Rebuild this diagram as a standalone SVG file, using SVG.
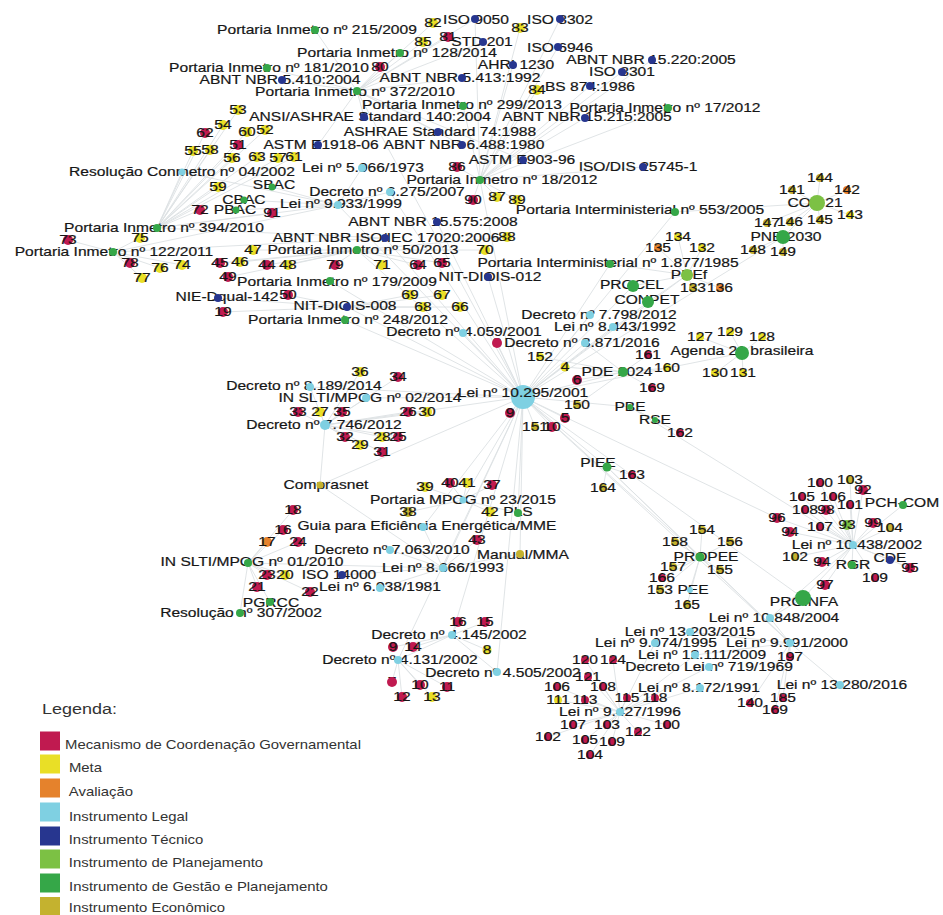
<svg xmlns="http://www.w3.org/2000/svg" width="943" height="915" viewBox="0 0 943 915">
<style>
text{font-family:"Liberation Sans",Arial,Helvetica,sans-serif;font-size:13px;fill:#161616;stroke:#161616;stroke-width:0.2;text-anchor:middle;transform-box:fill-box;transform-origin:center;transform:scaleX(1.2)}
.e{fill:none;stroke:#dce1e3;stroke-width:0.9}
.R{fill:#c01a50}.Y{fill:#e9df26}.O{fill:#e5822c}.C{fill:#7fd0e2}.B{fill:#27368f}.L{fill:#7cc144}.G{fill:#35a748}.E{fill:#c4b22f}
#legend text{font-size:12.4px;fill:#333;stroke:none}
#legend .h{font-size:15px}
</style>
<rect width="943" height="915" fill="#fff"/>
<g id="edges">
<path class="e" d="M523 397L463 333M523 397L488 277M523 397L480 180M523 397L675 212M523 397L610 264M523 397L633 286M523 397L648 302M523 397L590 315M523 397L613 327M523 397L585 343M523 397L623 372M523 397L630 407M523 397L607 467M523 397L463 500M523 397L366 398M523 397L325 425M523 397L742 353M523 397L687 275M523 397L777 518M523 397L790 643M523 397L452 635M523 397L398 660M523 397L497 672M523 397L520 554M523 397L518 513M523 397L423 527M523 397L443 568M523 397L320 485M523 397L357 250M523 397L390 192M523 397L338 205M523 397L330 281M523 397L347 307M523 397L345 320M523 397L310 387M523 397L783 237M523 397L700 557M523 397L803 598M523 397L385 238M523 397L437 222M523 397L357 91M523 397L497 343M523 397L565 418M523 397L510 413M523 397L535 427M523 397L552 427"/>
<path class="e" d="M480 180L475 19M480 180L560 19M480 180L558 47M480 180L622 72M480 180L652 60M480 180L585 118M480 180L590 86M480 180L513 65M480 180L643 167M480 180L668 108M480 180L463 106M480 180L457 167M480 180L473 200M480 180L497 197M480 180L517 200M357 91L364 117M357 91L318 145M357 91L282 80M357 91L462 78M357 91L438 132M357 91L462 145M357 91L523 160M357 91L483 42M357 91L475 19M357 91L315 30M357 91L267 68M357 91L400 53M357 91L423 42M357 91L448 37M357 91L380 67M357 91L433 23M480 180L537 90M480 180L520 28"/>
<path class="e" d="M157 228L238 110M157 228L223 125M157 228L247 132M157 228L265 130M157 228L205 133M157 228L238 145M157 228L193 151M157 228L210 150M157 228L232 158M157 228L257 157M157 228L278 158M157 228L294 157M157 228L218 187M157 228L200 210M157 228L272 213M157 228L385 238M157 228L182 172M338 205L272 187M338 205L244 200M338 205L236 210M338 205L182 172M338 205L362 168M338 205L390 192M338 205L157 228M338 205L113 252M113 252L68 240M113 252L140 238M113 252L130 263M113 252L160 268M113 252L182 265M113 252L142 278M113 252L385 238M357 250L335 265M357 250L382 265M357 250L418 265M357 250L442 263M357 250L253 250M357 250L220 263M357 250L240 262M357 250L267 265M357 250L288 265M357 250L228 277M357 250L485 250M357 250L507 237M347 307L410 295M347 307L442 295M347 307L423 307M347 307L460 307M347 307L218 298M347 307L223 312M347 307L288 295"/>
<path class="e" d="M325 425L360 372M325 425L398 377M325 425L298 412M325 425L320 412M325 425L342 412M325 425L408 412M325 425L427 412M325 425L345 437M325 425L360 445M325 425L382 437M325 425L398 437M325 425L382 452M325 425L310 387M325 425L366 398M325 425L320 485M463 500L425 487M463 500L450 483M463 500L467 483M463 500L492 485M463 500L408 512M463 500L490 512M463 500L518 513M443 568L423 527M443 568L390 550M443 568L520 554M443 568L477 540M443 568L248 563M443 568L342 575M443 568L380 588M443 568L320 485M248 563L293 510M248 563L283 530M248 563L267 542M248 563L298 542M248 563L267 575M248 563L285 575M248 563L257 587M248 563L310 592M248 563L270 602M248 563L240 613M452 635L458 622M452 635L485 622M452 635L487 650M452 635L393 647M452 635L413 647M452 635L398 660M452 635L497 672M398 660L392 682M398 660L420 685M398 660L447 687M398 660L402 697M398 660L432 697"/>
<path class="e" d="M620 712L585 660M620 712L613 660M620 712L588 677M620 712L557 687M620 712L603 687M620 712L558 700M620 712L585 700M620 712L627 698M620 712L655 698M620 712L573 725M620 712L607 725M620 712L638 732M620 712L667 725M620 712L548 737M620 712L585 740M620 712L612 742M620 712L590 755M620 712L655 643M620 712L700 688M620 712L709 667M620 712L695 655M790 643L840 685M790 643L750 703M790 643L783 698M790 643L775 710M790 643L790 657M790 643L695 655M790 643L690 632M790 643L700 557M790 643L607 467M790 643L770 618M700 557L702 530M700 557L675 542M700 557L730 542M700 557L673 567M700 557L720 570M700 557L662 578M700 557L660 590M700 557L690 590M700 557L687 605M700 557L607 467M607 467L632 475M607 467L603 488M853 545L803 598M853 545L890 560M853 545L852 565M853 545L903 505M853 545L820 483M853 545L850 480M853 545L863 490M853 545L802 497M853 545L833 497M853 545L850 505M853 545L805 510M853 545L826 510M853 545L777 518M853 545L820 527M853 545L847 525M853 545L873 523M853 545L890 528M853 545L790 532M853 545L795 557M853 545L822 562M853 545L910 568M853 545L875 578M853 545L825 585M853 545L630 407M853 545L770 618M803 598L770 618"/>
<path class="e" d="M817 203L820 178M817 203L792 190M817 203L847 190M817 203L850 215M817 203L767 223M817 203L790 222M817 203L820 220M817 203L675 212M817 203L783 237M783 237L753 250M783 237L783 252M687 275L678 237M687 275L658 248M687 275L702 248M687 275L693 288M687 275L720 288M687 275L633 286M687 275L648 302M687 275L610 264M742 353L700 337M742 353L730 332M742 353L762 337M742 353L715 373M742 353L743 373M623 372L648 355M623 372L667 368M623 372L652 388M623 372L540 357M623 372L565 367M623 372L577 380M623 372L577 405M623 372L585 343M630 407L680 433M630 407L655 420"/>
</g>
<g id="nodes">
<g id="n-lei10295"><circle class="C" cx="523" cy="397" r="12"/><text x="523" y="397.5">Lei nº 10.295/2001</text></g>
<g id="n-p215"><text x="317" y="34.5">Portaria Inmetro nº 215/2009</text><circle class="G" cx="315" cy="30" r="4"/></g>
<g id="n-p128"><text x="397" y="57.5">Portaria Inmetro nº 128/2014</text><circle class="G" cx="400" cy="53" r="4"/></g>
<g id="n-p181"><text x="269" y="72.5">Portaria Inmetro nº 181/2010</text><circle class="G" cx="267" cy="68" r="4"/></g>
<g id="n-nbr5410"><text x="280" y="84.5">ABNT NBR 5.410:2004</text><circle class="B" cx="282" cy="80" r="4"/></g>
<g id="n-p372"><text x="355" y="96.5">Portaria Inmetro nº 372/2010</text><circle class="G" cx="357" cy="91" r="4"/></g>
<g id="n-ashrae140"><text x="370" y="121.5">ANSI/ASHRAE Standard 140:2004</text><circle class="B" cx="364" cy="117" r="4"/></g>
<g id="n-astme1918"><text x="321" y="149.5">ASTM E1918-06</text><circle class="B" cx="318" cy="145" r="4"/></g>
<g id="n-conmetro"><text x="182" y="176.5">Resolução Conmetro nº 04/2002</text><circle class="C" cx="182" cy="172" r="3.5"/></g>
<g id="n-lei5966"><text x="363" y="172.5">Lei nº 5.966/1973</text><circle class="C" cx="362" cy="168" r="4"/></g>
<g id="n-sbac"><text x="274" y="189.5">SBAC</text><circle class="G" cx="272" cy="187" r="3.5"/></g>
<g id="n-dec6275"><text x="387" y="196.5">Decreto nº 6.275/2007</text><circle class="C" cx="390" cy="192" r="4"/></g>
<g id="n-cbac"><text x="244" y="204.5">CBAC</text><circle class="G" cx="244" cy="200" r="3.5"/></g>
<g id="n-lei9933"><text x="341" y="208.5">Lei nº 9.933/1999</text><circle class="C" cx="338" cy="205" r="4"/></g>
<g id="n-pbac"><text x="235" y="214.5">PBAC</text><circle class="G" cx="236" cy="210" r="3.5"/></g>
<g id="n-p394"><text x="164" y="232.5">Portaria Inmetro nº 394/2010</text><circle class="G" cx="157" cy="228" r="4"/></g>
<g id="n-iso9050"><text x="476" y="24.5">ISO 9050</text><circle class="B" cx="475" cy="19" r="4"/></g>
<g id="n-iso8302"><text x="560" y="24.5">ISO 8302</text><circle class="B" cx="560" cy="19" r="4"/></g>
<g id="n-std201"><text x="482" y="46.5">STD 201</text><circle class="B" cx="483" cy="42" r="4"/></g>
<g id="n-iso6946"><text x="560" y="52.5">ISO 6946</text><circle class="B" cx="558" cy="47" r="4"/></g>
<g id="n-ahri"><text x="516" y="69.5">AHRI 1230</text><circle class="B" cx="513" cy="65" r="4"/></g>
<g id="n-nbr15220"><text x="651" y="64.5">ABNT NBR 15.220:2005</text><circle class="B" cx="652" cy="60" r="4"/></g>
<g id="n-iso8301"><text x="622" y="76.5">ISO 8301</text><circle class="B" cx="622" cy="72" r="4"/></g>
<g id="n-nbr5413"><text x="460" y="82.5">ABNT NBR 5.413:1992</text><circle class="B" cx="462" cy="78" r="4"/></g>
<g id="n-bs874"><text x="590" y="91.5">BS 874:1986</text><circle class="B" cx="590" cy="86" r="4"/></g>
<g id="n-p299"><text x="462" y="109.5">Portaria Inmetro nº 299/2013</text><circle class="G" cx="463" cy="106" r="4"/></g>
<g id="n-p17"><text x="665" y="112.5">Portaria Inmetro nº 17/2012</text><circle class="G" cx="668" cy="108" r="4"/></g>
<g id="n-nbr15215"><text x="587" y="121.5">ABNT NBR 15.215:2005</text><circle class="B" cx="585" cy="118" r="4"/></g>
<g id="n-ashrae74"><text x="440" y="136.5">ASHRAE Standard 74:1988</text><circle class="B" cx="438" cy="132" r="4"/></g>
<g id="n-nbr6488"><text x="464" y="149.5">ABNT NBR 6.488:1980</text><circle class="B" cx="462" cy="145" r="4"/></g>
<g id="n-astme903"><text x="522" y="164.5">ASTM E903-96</text><circle class="B" cx="523" cy="160" r="4"/></g>
<g id="n-iso25745"><text x="638" y="171.5">ISO/DIS 25745-1</text><circle class="B" cx="643" cy="167" r="4"/></g>
<g id="n-p18"><text x="502" y="184.5">Portaria Inmetro nº 18/2012</text><circle class="G" cx="480" cy="180" r="4"/></g>
<g id="n-pi553"><text x="640" y="214.5">Portaria Interministerial nº 553/2005</text><circle class="G" cx="675" cy="212" r="4"/></g>
<g id="n-nbr15575"><text x="433" y="226.5">ABNT NBR 15.575:2008</text><circle class="B" cx="437" cy="222" r="4"/></g>
<g id="n-iec17020"><text x="386" y="242.5">ABNT NBR ISO/IEC 17020:2006</text><circle class="B" cx="385" cy="238" r="4"/></g>
<g id="n-p50"><text x="363" y="254.5">Portaria Inmetro nº 50/2013</text><circle class="G" cx="357" cy="250" r="4"/></g>
<g id="n-p179"><text x="337" y="286.5">Portaria Inmetro nº 179/2009</text><circle class="G" cx="330" cy="281" r="4"/></g>
<g id="n-nit012"><text x="490" y="281.5">NIT-DIOIS-012</text><circle class="B" cx="488" cy="277" r="4"/></g>
<g id="n-nie142"><text x="227" y="301.5">NIE-Dqual-142</text><circle class="B" cx="218" cy="298" r="4"/></g>
<g id="n-nit008"><text x="345" y="310.5">NIT-DIOIS-008</text><circle class="B" cx="347" cy="307" r="4"/></g>
<g id="n-p248"><text x="348" y="324.5">Portaria Inmetro nº 248/2012</text><circle class="G" cx="345" cy="320" r="4"/></g>
<g id="n-p122"><text x="114" y="256.5">Portaria Inmetro nº 122/2011</text><circle class="G" cx="113" cy="252" r="4"/></g>
<g id="n-dec4059"><text x="464" y="336.5">Decreto nº 4.059/2001</text><circle class="C" cx="463" cy="333" r="4"/></g>
<g id="n-pi1877"><text x="608" y="267.5">Portaria Interministerial nº 1.877/1985</text><circle class="G" cx="610" cy="264" r="4"/></g>
<g id="n-pnef"><text x="689" y="279.5">PNEf</text><circle class="L" cx="687" cy="275" r="6"/></g>
<g id="n-procel"><text x="632" y="289.5">PROCEL</text><circle class="G" cx="633" cy="286" r="6"/></g>
<g id="n-conpet"><text x="647" y="304.5">CONPET</text><circle class="G" cx="648" cy="302" r="6"/></g>
<g id="n-dec7798"><text x="599" y="319.5">Decreto nº 7.798/2012</text><circle class="C" cx="590" cy="315" r="4"/></g>
<g id="n-lei8443"><text x="615" y="331.5">Lei nº 8.443/1992</text><circle class="C" cx="613" cy="327" r="4"/></g>
<g id="n-dec8871"><text x="582" y="347.5">Decreto nº 8.871/2016</text><circle class="C" cx="585" cy="343" r="4"/></g>
<g id="n-agenda21"><text x="742" y="355.5">Agenda 21 brasileira</text><circle class="G" cx="742" cy="353" r="7"/></g>
<g id="n-pde"><text x="617" y="376.5">PDE 2024</text><circle class="G" cx="623" cy="372" r="5"/></g>
<g id="n-cop21"><text x="815" y="207.5">COP 21</text><circle class="L" cx="817" cy="203" r="8"/></g>
<g id="n-pne2030"><text x="786" y="241.5">PNE 2030</text><circle class="G" cx="783" cy="237" r="7"/></g>
<g id="n-dec8189"><text x="304" y="390.5">Decreto nº 8.189/2014</text><circle class="C" cx="310" cy="387" r="4"/></g>
<g id="n-in02"><text x="370" y="402.5">IN SLTI/MPOG nº 02/2014</text><circle class="C" cx="366" cy="398" r="4"/></g>
<g id="n-dec7746"><text x="324" y="429.5">Decreto nº 7.746/2012</text><circle class="C" cx="325" cy="425" r="5"/></g>
<g id="n-pbe"><text x="630" y="411.5">PBE</text><circle class="G" cx="630" cy="407" r="3"/></g>
<g id="n-rse"><text x="655" y="424.5">RSE</text><circle class="G" cx="655" cy="420" r="3"/></g>
<g id="n-piee"><text x="598" y="467.5">PIEE</text><circle class="G" cx="607" cy="467" r="4.5"/></g>
<g id="n-comprasnet"><text x="326" y="489.5">Comprasnet</text><circle class="E" cx="320" cy="485" r="3.5"/></g>
<g id="n-mpog23"><text x="463" y="504.5">Portaria MPOG nº 23/2015</text><circle class="C" cx="463" cy="500" r="3.5"/></g>
<g id="n-pls"><text x="518" y="516.5">PLS</text><circle class="G" cx="518" cy="513" r="4"/></g>
<g id="n-guia"><text x="427" y="530.5">Guia para Eficiência Energética/MME</text><circle class="C" cx="423" cy="527" r="4"/></g>
<g id="n-dec7063"><text x="392" y="554.5">Decreto nº 7.063/2010</text><circle class="C" cx="390" cy="550" r="4"/></g>
<g id="n-manual"><text x="523" y="559.5">Manual/MMA</text><circle class="E" cx="520" cy="554" r="4"/></g>
<g id="n-in01"><text x="252" y="566.5">IN SLTI/MPOG nº 01/2010</text><circle class="G" cx="248" cy="563" r="4"/></g>
<g id="n-iso14000"><text x="339" y="579.5">ISO 14000</text><circle class="B" cx="342" cy="575" r="4"/></g>
<g id="n-lei8666"><text x="443" y="572.5">Lei nº 8.666/1993</text><circle class="C" cx="443" cy="568" r="4"/></g>
<g id="n-lei6938"><text x="380" y="591.5">Lei nº 6.938/1981</text><circle class="C" cx="380" cy="588" r="4"/></g>
<g id="n-pgrcc"><text x="271" y="607.5">PGRCC</text><circle class="G" cx="270" cy="602" r="4"/></g>
<g id="n-res307"><text x="241" y="617.5">Resolução nº 307/2002</text><circle class="G" cx="240" cy="613" r="4"/></g>
<g id="n-dec4145"><text x="449" y="639.5">Decreto nº 4.145/2002</text><circle class="C" cx="452" cy="635" r="4"/></g>
<g id="n-dec4131"><text x="400" y="664.5">Decreto nº 4.131/2002</text><circle class="C" cx="398" cy="660" r="4"/></g>
<g id="n-dec4505"><text x="503" y="676.5">Decreto nº 4.505/2002</text><circle class="C" cx="497" cy="672" r="4"/></g>
<g id="n-propee"><text x="706" y="561.5">PROPEE</text><circle class="G" cx="700" cy="557" r="4.5"/></g>
<g id="n-pee"><text x="693" y="594.5">PEE</text><circle class="C" cx="690" cy="590" r="3"/></g>
<g id="n-pchcom"><text x="902" y="507.5">PCH-COM</text><circle class="G" cx="903" cy="505" r="4"/></g>
<g id="n-lei10438"><text x="857" y="549.5">Lei nº 10.438/2002</text><circle class="C" cx="853" cy="545" r="4"/></g>
<g id="n-rgr"><text x="853" y="569.5">RGR</text><circle class="G" cx="852" cy="565" r="4"/></g>
<g id="n-cde"><text x="890" y="562.5">CDE</text><circle class="B" cx="890" cy="560" r="4"/></g>
<g id="n-proinfa"><text x="804" y="606.5">PROINFA</text><circle class="G" cx="803" cy="598" r="8"/></g>
<g id="n-lei10848"><text x="774" y="622.5">Lei nº 10.848/2004</text><circle class="C" cx="770" cy="618" r="4"/></g>
<g id="n-lei13203"><text x="690" y="636.5">Lei nº 13.203/2015</text><circle class="C" cx="690" cy="632" r="4"/></g>
<g id="n-lei9074"><text x="656" y="647.5">Lei nº 9.074/1995</text><circle class="C" cx="655" cy="643" r="4"/></g>
<g id="n-lei9991"><text x="787" y="647.5">Lei nº 9.991/2000</text><circle class="C" cx="790" cy="643" r="4"/></g>
<g id="n-lei12111"><text x="702" y="659.5">Lei nº 12.111/2009</text><circle class="C" cx="695" cy="655" r="4"/></g>
<g id="n-dl719"><text x="709" y="671.5">Decreto Lei nº 719/1969</text><circle class="C" cx="709" cy="667" r="4"/></g>
<g id="n-lei8172"><text x="699" y="692.5">Lei nº 8.172/1991</text><circle class="C" cx="700" cy="688" r="4"/></g>
<g id="n-lei13280"><text x="842" y="689.5">Lei nº 13.280/2016</text><circle class="C" cx="840" cy="685" r="4"/></g>
<g id="n-lei9427"><text x="620" y="716.5">Lei nº 9.427/1996</text><circle class="C" cx="620" cy="712" r="4"/></g>

<g id="k82"><circle class="Y" cx="433" cy="23" r="5"/><text x="433" y="27.5">82</text></g>
<g id="k83"><circle class="Y" cx="520" cy="28" r="5"/><text x="520" y="32.5">83</text></g>
<g id="k85"><circle class="Y" cx="423" cy="42" r="5"/><text x="423" y="46.5">85</text></g>
<g id="k81"><circle class="R" cx="448" cy="37" r="5"/><text x="448" y="41.5">81</text></g>
<g id="k80"><circle class="R" cx="380" cy="67" r="5"/><text x="380" y="71.5">80</text></g>
<g id="k84"><circle class="Y" cx="537" cy="90" r="5"/><text x="537" y="94.5">84</text></g>
<g id="k53"><circle class="Y" cx="238" cy="110" r="5"/><text x="238" y="114.5">53</text></g>
<g id="k54"><circle class="Y" cx="223" cy="125" r="5"/><text x="223" y="129.5">54</text></g>
<g id="k60"><circle class="Y" cx="247" cy="132" r="5"/><text x="247" y="136.5">60</text></g>
<g id="k52"><circle class="Y" cx="265" cy="130" r="5"/><text x="265" y="134.5">52</text></g>
<g id="k62"><circle class="R" cx="205" cy="133" r="5"/><text x="205" y="137.5">62</text></g>
<g id="k51"><circle class="R" cx="238" cy="145" r="5"/><text x="238" y="149.5">51</text></g>
<g id="k55"><circle class="Y" cx="193" cy="151" r="5"/><text x="193" y="155.5">55</text></g>
<g id="k58"><circle class="Y" cx="210" cy="150" r="5"/><text x="210" y="154.5">58</text></g>
<g id="k56"><circle class="Y" cx="232" cy="158" r="5"/><text x="232" y="162.5">56</text></g>
<g id="k63"><circle class="Y" cx="257" cy="157" r="5"/><text x="257" y="161.5">63</text></g>
<g id="k57"><circle class="Y" cx="278" cy="158" r="5"/><text x="278" y="162.5">57</text></g>
<g id="k61"><circle class="Y" cx="294" cy="157" r="5"/><text x="294" y="161.5">61</text></g>
<g id="k59"><circle class="Y" cx="218" cy="187" r="5"/><text x="218" y="191.5">59</text></g>
<g id="k72"><circle class="R" cx="200" cy="210" r="5"/><text x="200" y="214.5">72</text></g>
<g id="k91"><circle class="R" cx="272" cy="213" r="5"/><text x="272" y="217.5">91</text></g>
<g id="k86"><circle class="R" cx="457" cy="167" r="5"/><text x="457" y="171.5">86</text></g>
<g id="k90"><circle class="R" cx="473" cy="200" r="5"/><text x="473" y="204.5">90</text></g>
<g id="k87"><circle class="Y" cx="497" cy="197" r="5"/><text x="497" y="201.5">87</text></g>
<g id="k89"><circle class="Y" cx="517" cy="200" r="5"/><text x="517" y="204.5">89</text></g>
<g id="k73"><circle class="R" cx="68" cy="240" r="5"/><text x="68" y="244.5">73</text></g>
<g id="k75"><circle class="Y" cx="140" cy="238" r="5"/><text x="140" y="242.5">75</text></g>
<g id="k78"><circle class="R" cx="130" cy="263" r="5"/><text x="130" y="267.5">78</text></g>
<g id="k76"><circle class="Y" cx="160" cy="268" r="5"/><text x="160" y="272.5">76</text></g>
<g id="k74"><circle class="Y" cx="182" cy="265" r="5"/><text x="182" y="269.5">74</text></g>
<g id="k77"><circle class="Y" cx="142" cy="278" r="5"/><text x="142" y="282.5">77</text></g>
<g id="k47"><circle class="Y" cx="253" cy="250" r="5"/><text x="253" y="254.5">47</text></g>
<g id="k45"><circle class="R" cx="220" cy="263" r="5"/><text x="220" y="267.5">45</text></g>
<g id="k46"><circle class="Y" cx="240" cy="262" r="5"/><text x="240" y="266.5">46</text></g>
<g id="k44"><circle class="R" cx="267" cy="265" r="5"/><text x="267" y="269.5">44</text></g>
<g id="k48"><circle class="Y" cx="288" cy="265" r="5"/><text x="288" y="269.5">48</text></g>
<g id="k49"><circle class="R" cx="228" cy="277" r="5"/><text x="228" y="281.5">49</text></g>
<g id="k50"><circle class="R" cx="288" cy="295" r="5"/><text x="288" y="299.5">50</text></g>
<g id="k19"><circle class="R" cx="223" cy="312" r="5"/><text x="223" y="316.5">19</text></g>
<g id="k88"><circle class="Y" cx="507" cy="237" r="5"/><text x="507" y="241.5">88</text></g>
<g id="k70"><circle class="Y" cx="485" cy="250" r="5"/><text x="485" y="254.5">70</text></g>
<g id="k79"><circle class="R" cx="335" cy="265" r="5"/><text x="335" y="269.5">79</text></g>
<g id="k71"><circle class="Y" cx="382" cy="265" r="5"/><text x="382" y="269.5">71</text></g>
<g id="k64"><circle class="R" cx="418" cy="265" r="5"/><text x="418" y="269.5">64</text></g>
<g id="k65"><circle class="R" cx="442" cy="263" r="5"/><text x="442" y="267.5">65</text></g>
<g id="k69"><circle class="Y" cx="410" cy="295" r="5"/><text x="410" y="299.5">69</text></g>
<g id="k67"><circle class="Y" cx="442" cy="295" r="5"/><text x="442" y="299.5">67</text></g>
<g id="k68"><circle class="Y" cx="423" cy="307" r="5"/><text x="423" y="311.5">68</text></g>
<g id="k66"><circle class="Y" cx="460" cy="307" r="5"/><text x="460" y="311.5">66</text></g>
<g id="k144"><circle class="E" cx="820" cy="178" r="4"/><text x="820" y="182.5">144</text></g>
<g id="k141"><circle class="E" cx="792" cy="190" r="4"/><text x="792" y="194.5">141</text></g>
<g id="k142"><circle class="O" cx="847" cy="190" r="4"/><text x="847" y="194.5">142</text></g>
<g id="k143"><circle class="Y" cx="850" cy="215" r="4"/><text x="850" y="219.5">143</text></g>
<g id="k147"><circle class="E" cx="767" cy="223" r="4"/><text x="767" y="227.5">147</text></g>
<g id="k146"><circle class="E" cx="790" cy="222" r="4"/><text x="790" y="226.5">146</text></g>
<g id="k145"><circle class="E" cx="820" cy="220" r="4"/><text x="820" y="224.5">145</text></g>
<g id="k148"><circle class="E" cx="753" cy="250" r="4"/><text x="753" y="254.5">148</text></g>
<g id="k149"><circle class="E" cx="783" cy="252" r="4"/><text x="783" y="256.5">149</text></g>
<g id="k134"><circle class="Y" cx="678" cy="237" r="4"/><text x="678" y="241.5">134</text></g>
<g id="k135"><circle class="O" cx="658" cy="248" r="4"/><text x="658" y="252.5">135</text></g>
<g id="k132"><circle class="Y" cx="702" cy="248" r="4"/><text x="702" y="252.5">132</text></g>
<g id="k133"><circle class="E" cx="693" cy="288" r="4"/><text x="693" y="292.5">133</text></g>
<g id="k136"><circle class="O" cx="720" cy="288" r="4"/><text x="720" y="292.5">136</text></g>
<g id="k127"><circle class="Y" cx="700" cy="337" r="4"/><text x="700" y="341.5">127</text></g>
<g id="k129"><circle class="Y" cx="730" cy="332" r="4"/><text x="730" y="336.5">129</text></g>
<g id="k128"><circle class="Y" cx="762" cy="337" r="4"/><text x="762" y="341.5">128</text></g>
<g id="k161"><circle class="R" cx="648" cy="355" r="4"/><text x="648" y="359.5">161</text></g>
<g id="k160"><circle class="Y" cx="667" cy="368" r="4"/><text x="667" y="372.5">160</text></g>
<g id="k169a"><circle class="R" cx="652" cy="388" r="4"/><text x="652" y="392.5">169</text></g>
<g id="k130"><circle class="Y" cx="715" cy="373" r="4"/><text x="715" y="377.5">130</text></g>
<g id="k131"><circle class="Y" cx="743" cy="373" r="4"/><text x="743" y="377.5">131</text></g>
<g id="k162"><circle class="R" cx="680" cy="433" r="4"/><text x="680" y="437.5">162</text></g>
<g id="k152"><circle class="Y" cx="540" cy="357" r="4"/><text x="540" y="361.5">152</text></g>
<g id="k3"><text x="497" y="347.5">3</text><circle class="R" cx="497" cy="343" r="5"/></g>
<g id="k4"><circle class="Y" cx="565" cy="367" r="4.5"/><text x="565" y="371.5">4</text></g>
<g id="k6"><circle class="R" cx="577" cy="380" r="5"/><text x="577" y="384.5">6</text></g>
<g id="k150"><circle class="E" cx="577" cy="405" r="4"/><text x="577" y="409.5">150</text></g>
<g id="k5"><circle class="R" cx="565" cy="418" r="5"/><text x="565" y="422.5">5</text></g>
<g id="k9a"><circle class="R" cx="510" cy="413" r="5"/><text x="510" y="417.5">9</text></g>
<g id="k151"><circle class="E" cx="535" cy="427" r="4"/><text x="535" y="431.5">151</text></g>
<g id="k10a"><circle class="R" cx="552" cy="427" r="5"/><text x="552" y="431.5">10</text></g>
<g id="k36"><circle class="Y" cx="360" cy="372" r="5"/><text x="360" y="376.5">36</text></g>
<g id="k34"><circle class="R" cx="398" cy="377" r="5"/><text x="398" y="381.5">34</text></g>
<g id="k33"><circle class="R" cx="298" cy="412" r="5"/><text x="298" y="416.5">33</text></g>
<g id="k27"><circle class="Y" cx="320" cy="412" r="5"/><text x="320" y="416.5">27</text></g>
<g id="k35"><circle class="R" cx="342" cy="412" r="5"/><text x="342" y="416.5">35</text></g>
<g id="k26"><circle class="R" cx="408" cy="412" r="5"/><text x="408" y="416.5">26</text></g>
<g id="k30"><circle class="Y" cx="427" cy="412" r="5"/><text x="427" y="416.5">30</text></g>
<g id="k32"><circle class="R" cx="345" cy="437" r="5"/><text x="345" y="441.5">32</text></g>
<g id="k29"><circle class="Y" cx="360" cy="445" r="5"/><text x="360" y="449.5">29</text></g>
<g id="k28"><circle class="Y" cx="382" cy="437" r="5"/><text x="382" y="441.5">28</text></g>
<g id="k25"><circle class="R" cx="398" cy="437" r="5"/><text x="398" y="441.5">25</text></g>
<g id="k31"><circle class="R" cx="382" cy="452" r="5"/><text x="382" y="456.5">31</text></g>
<g id="k39"><circle class="Y" cx="425" cy="487" r="5"/><text x="425" y="491.5">39</text></g>
<g id="k40"><circle class="R" cx="450" cy="483" r="5"/><text x="450" y="487.5">40</text></g>
<g id="k41"><circle class="Y" cx="467" cy="483" r="5"/><text x="467" y="487.5">41</text></g>
<g id="k37"><circle class="R" cx="492" cy="485" r="5"/><text x="492" y="489.5">37</text></g>
<g id="k38"><circle class="E" cx="408" cy="512" r="5"/><text x="408" y="516.5">38</text></g>
<g id="k42"><circle class="Y" cx="490" cy="512" r="5"/><text x="490" y="516.5">42</text></g>
<g id="k43"><circle class="R" cx="477" cy="540" r="5"/><text x="477" y="544.5">43</text></g>
<g id="k163"><circle class="R" cx="632" cy="475" r="4"/><text x="632" y="479.5">163</text></g>
<g id="k164"><circle class="E" cx="603" cy="488" r="4"/><text x="603" y="492.5">164</text></g>
<g id="k18"><circle class="R" cx="293" cy="510" r="5"/><text x="293" y="514.5">18</text></g>
<g id="k16a"><circle class="R" cx="283" cy="530" r="5"/><text x="283" y="534.5">16</text></g>
<g id="k17"><circle class="O" cx="267" cy="542" r="5"/><text x="267" y="546.5">17</text></g>
<g id="k24"><circle class="R" cx="298" cy="542" r="5"/><text x="298" y="546.5">24</text></g>
<g id="k23"><circle class="R" cx="267" cy="575" r="5"/><text x="267" y="579.5">23</text></g>
<g id="k20"><circle class="Y" cx="285" cy="575" r="5"/><text x="285" y="579.5">20</text></g>
<g id="k21"><circle class="R" cx="257" cy="587" r="5"/><text x="257" y="591.5">21</text></g>
<g id="k22"><circle class="R" cx="310" cy="592" r="5"/><text x="310" y="596.5">22</text></g>
<g id="k16b"><circle class="R" cx="458" cy="622" r="5"/><text x="458" y="626.5">16</text></g>
<g id="k15"><circle class="R" cx="485" cy="622" r="5"/><text x="485" y="626.5">15</text></g>
<g id="k8"><circle class="Y" cx="487" cy="650" r="4.5"/><text x="487" y="654.5">8</text></g>
<g id="k9b"><circle class="R" cx="393" cy="647" r="5"/><text x="393" y="651.5">9</text></g>
<g id="k14"><circle class="R" cx="413" cy="647" r="5"/><text x="413" y="651.5">14</text></g>
<g id="k7"><text x="392" y="686.5">7</text><circle class="R" cx="392" cy="682" r="5"/></g>
<g id="k10b"><circle class="R" cx="420" cy="685" r="5"/><text x="420" y="689.5">10</text></g>
<g id="k11"><circle class="R" cx="447" cy="687" r="5"/><text x="447" y="691.5">11</text></g>
<g id="k12"><circle class="R" cx="402" cy="697" r="5"/><text x="402" y="701.5">12</text></g>
<g id="k13"><circle class="Y" cx="432" cy="697" r="5"/><text x="432" y="701.5">13</text></g>
<g id="k120"><circle class="R" cx="585" cy="660" r="4"/><text x="585" y="664.5">120</text></g>
<g id="k124"><circle class="R" cx="613" cy="660" r="4"/><text x="613" y="664.5">124</text></g>
<g id="k121"><circle class="R" cx="588" cy="677" r="4"/><text x="588" y="681.5">121</text></g>
<g id="k106a"><circle class="R" cx="557" cy="687" r="4"/><text x="557" y="691.5">106</text></g>
<g id="k108a"><circle class="R" cx="603" cy="687" r="4"/><text x="603" y="691.5">108</text></g>
<g id="k111"><circle class="Y" cx="558" cy="700" r="4"/><text x="558" y="704.5">111</text></g>
<g id="k113"><circle class="R" cx="585" cy="700" r="4"/><text x="585" y="704.5">113</text></g>
<g id="k115"><circle class="R" cx="627" cy="698" r="4"/><text x="627" y="702.5">115</text></g>
<g id="k118"><circle class="R" cx="655" cy="698" r="4"/><text x="655" y="702.5">118</text></g>
<g id="k107a"><circle class="R" cx="573" cy="725" r="4"/><text x="573" y="729.5">107</text></g>
<g id="k103a"><circle class="R" cx="607" cy="725" r="4"/><text x="607" y="729.5">103</text></g>
<g id="k122"><circle class="R" cx="638" cy="732" r="4"/><text x="638" y="736.5">122</text></g>
<g id="k100a"><circle class="R" cx="667" cy="725" r="4"/><text x="667" y="729.5">100</text></g>
<g id="k102a"><circle class="R" cx="548" cy="737" r="4"/><text x="548" y="741.5">102</text></g>
<g id="k105a"><circle class="R" cx="585" cy="740" r="4"/><text x="585" y="744.5">105</text></g>
<g id="k109a"><circle class="R" cx="612" cy="742" r="4"/><text x="612" y="746.5">109</text></g>
<g id="k104a"><circle class="R" cx="590" cy="755" r="4"/><text x="590" y="759.5">104</text></g>
<g id="k140"><circle class="R" cx="750" cy="703" r="4"/><text x="750" y="707.5">140</text></g>
<g id="k185"><circle class="R" cx="783" cy="698" r="4"/><text x="783" y="702.5">185</text></g>
<g id="k169b"><circle class="R" cx="775" cy="710" r="4"/><text x="775" y="714.5">169</text></g>
<g id="k197"><circle class="R" cx="790" cy="657" r="4"/><text x="790" y="661.5">197</text></g>
<g id="k100b"><circle class="R" cx="820" cy="483" r="4"/><text x="820" y="487.5">100</text></g>
<g id="k103b"><circle class="E" cx="850" cy="480" r="4"/><text x="850" y="484.5">103</text></g>
<g id="k92"><circle class="R" cx="863" cy="490" r="5"/><text x="863" y="494.5">92</text></g>
<g id="k105b"><circle class="R" cx="802" cy="497" r="4"/><text x="802" y="501.5">105</text></g>
<g id="k106b"><circle class="R" cx="833" cy="497" r="4"/><text x="833" y="501.5">106</text></g>
<g id="k101"><circle class="R" cx="850" cy="505" r="4"/><text x="850" y="509.5">101</text></g>
<g id="k108b"><circle class="R" cx="805" cy="510" r="4"/><text x="805" y="514.5">108</text></g>
<g id="k98"><circle class="R" cx="826" cy="510" r="5"/><text x="826" y="514.5">98</text></g>
<g id="k96"><circle class="R" cx="777" cy="518" r="5"/><text x="777" y="522.5">96</text></g>
<g id="k107b"><circle class="R" cx="820" cy="527" r="4"/><text x="820" y="531.5">107</text></g>
<g id="k93"><circle class="L" cx="847" cy="525" r="5"/><text x="847" y="529.5">93</text></g>
<g id="k99"><circle class="R" cx="873" cy="523" r="5"/><text x="873" y="527.5">99</text></g>
<g id="k104b"><circle class="E" cx="890" cy="528" r="4"/><text x="890" y="532.5">104</text></g>
<g id="k94a"><circle class="R" cx="790" cy="532" r="5"/><text x="790" y="536.5">94</text></g>
<g id="k102b"><circle class="E" cx="795" cy="557" r="4"/><text x="795" y="561.5">102</text></g>
<g id="k94b"><circle class="R" cx="822" cy="562" r="5"/><text x="822" y="566.5">94</text></g>
<g id="k95"><circle class="R" cx="910" cy="568" r="5"/><text x="910" y="572.5">95</text></g>
<g id="k109b"><circle class="R" cx="875" cy="578" r="4"/><text x="875" y="582.5">109</text></g>
<g id="k97"><circle class="R" cx="825" cy="585" r="5"/><text x="825" y="589.5">97</text></g>
<g id="k154"><circle class="E" cx="702" cy="530" r="4"/><text x="702" y="534.5">154</text></g>
<g id="k158"><circle class="E" cx="675" cy="542" r="4"/><text x="675" y="546.5">158</text></g>
<g id="k156"><circle class="E" cx="730" cy="542" r="4"/><text x="730" y="546.5">156</text></g>
<g id="k157"><circle class="E" cx="673" cy="567" r="4"/><text x="673" y="571.5">157</text></g>
<g id="k155"><circle class="E" cx="720" cy="570" r="4"/><text x="720" y="574.5">155</text></g>
<g id="k166"><circle class="R" cx="662" cy="578" r="4"/><text x="662" y="582.5">166</text></g>
<g id="k153"><circle class="E" cx="660" cy="590" r="4"/><text x="660" y="594.5">153</text></g>
<g id="k165"><circle class="E" cx="687" cy="605" r="4"/><text x="687" y="609.5">165</text></g>
</g>
<g id="legend">
<text class="h" x="79.5" y="714.5">Legenda:</text>
<rect class="R" x="40" y="731.5" width="20" height="19"/><text x="213" y="749.3">Mecanismo de Coordenação Governamental</text>
<rect class="Y" x="40" y="754.5" width="20" height="19"/><text x="85.5" y="772.3">Meta</text>
<rect class="O" x="40" y="778.5" width="20" height="19"/><text x="101" y="796.3">Avaliação</text>
<rect class="C" x="40" y="802.5" width="20" height="19"/><text x="128.5" y="821.3">Instrumento Legal</text>
<rect class="B" x="40" y="826.5" width="20" height="19"/><text x="136" y="844.3">Instrumento Técnico</text>
<rect class="L" x="40" y="849.5" width="20" height="19"/><text x="166" y="867.3">Instrumento de Planejamento</text>
<rect class="G" x="40" y="873.5" width="20" height="19"/><text x="198.5" y="891.3">Instrumento de Gestão e Planejamento</text>
<rect class="E" x="40" y="897" width="20" height="18"/><text x="147" y="912.3">Instrumento Econômico</text>
</g>
</svg>
